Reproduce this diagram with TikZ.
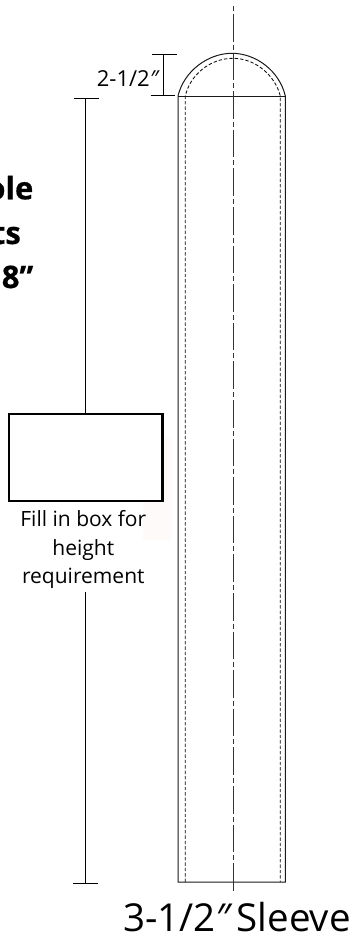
\documentclass[tikz,border=0pt]{standalone}
\usepackage{fontspec}
\setmainfont{Open Sans}
\newfontfamily\heavyfont[FakeBold=0.6]{Open Sans Bold}
\tikzset{
  thin line/.style={line width=1pt,black!90},
  hidden line/.style={line width=0.85pt,black!95,dash pattern=on 3.4pt off 2pt},
  center line/.style={line width=1pt,black!80,dash pattern=on 27.6pt off 3pt on 5pt off 3pt,dash phase=30.6pt},
  dim/.style={line width=1pt,black},
  lbl/.style={inner sep=0pt,text=black},
  bold lbl/.style={lbl,anchor=base east,font=\fontsize{31}{36}\heavyfont},
}
\begin{document}
\begin{tikzpicture}[x=1pt,y=-1pt]
\useasboundingbox (0,0) rectangle (352,937);
\fill[white] (0,0) rectangle (352,937);
\fill[red!2!white] (162.5,437) -- (171,437) -- (171,540) -- (143,540) -- (143,501.5) -- (162.5,501.5) -- cycle;
% coordinates
\coordinate (tl) at (178,96);
\coordinate (tr) at (285.3,96);
\coordinate (bl) at (178,882);
\coordinate (br) at (285.3,882);
\coordinate (itl) at (185.3,96);
\coordinate (itr) at (280.3,96);
\coordinate (ibl) at (185.3,882);
\coordinate (ibr) at (280.3,882);
\coordinate (ctop) at (233,6);
\coordinate (cbot) at (233,892);
% sleeve
\draw[thin line] (bl) -- (tl) .. controls (184,71) and (208,53.3) .. (232,53.3) .. controls (256,53.3) and (279.5,71) .. (tr) -- (br) -- cycle;
\draw[thin line] (tl) -- (tr);
\draw[hidden line] (ibl) -- (itl) .. controls (190,75) and (210,58.3) .. (233,58.3) .. controls (255,58.3) and (275,75) .. (itr) -- (ibr);
\draw[center line] (ctop) -- (cbot);
% small dimension
\coordinate (da) at (163.3,54.7);
\coordinate (db) at (163.3,95.7);
\draw[dim] (da) -- (db);
\draw[dim] (152,54.7) -- (176.7,54.7);
\draw[dim] (150.7,95.7) -- (175,95.7);
\node[lbl,anchor=base east,font=\fontsize{22}{26}\selectfont] (small) at (158.5,86) {2-1/2{\itshape\char"2033}};
% box
\node[draw=black,line width=2.2pt,minimum width=153.3pt,minimum height=86.7pt,inner sep=0pt,anchor=north west] (box) at (8,413) {};
% big dimension
\coordinate (bt) at (85.7,98);
\coordinate (bb) at (85.7,883);
\draw[dim] (bt) -- (box.north -| bt);
\draw[dim] (74,98) -- (99,98);
\node[lbl,align=center,font=\fontsize{21}{28.8}\selectfont,anchor=north] (fill) at (83.3,510) {Fill in box for\\height\\requirement};
\coordinate (bm) at (85.7,592);
\draw[dim] (bm) -- (bb);
\draw[dim] (73,883) -- (98,883);
% bold text
\node[bold lbl] (t1) at (33.5,199.3) {ole};
\node[bold lbl] (t2) at (21,244) {ts};
\node[bold lbl] (t3) at (33.5,288) {8\char"201D};
% title
\node[lbl,anchor=base west,font=\fontsize{38.5}{46}\selectfont] (title) at (123,931.5) {3-1/2{\itshape\char"2033}\hspace{6pt}Sleeve};
\end{tikzpicture}
\end{document}
